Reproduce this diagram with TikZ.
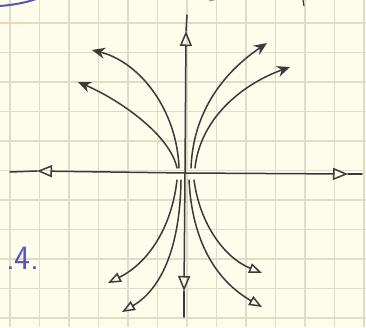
\documentclass[tikz,border=0pt]{standalone}
\usetikzlibrary{arrows.meta}
\definecolor{paper}{HTML}{FEFCEB}
\definecolor{gridc}{HTML}{DFDDCA}
\definecolor{ink}{HTML}{3A3A3A}
\definecolor{blueink}{HTML}{5555BB}
\definecolor{margin}{HTML}{F2D2B8}
\begin{document}
\begin{tikzpicture}[x=1pt,y=-1pt,
  gridline/.style={draw=gridc,line width=1.3pt},
  axisline/.style={draw=ink,line width=1.5pt,line cap=round},
  axistip/.style={axisline,-{Triangle[open,length=15pt,width=12pt]}},
  uptraj/.style={draw=ink,line width=1.5pt,line cap=round,-{Stealth[length=13pt,width=11pt]}},
  downtraj/.style={draw=ink,line width=1.5pt,line cap=round,-{Triangle[open,length=13pt,width=10pt]}}]
\fill[paper] (0,0) rectangle (366,327);
\useasboundingbox (0,0) rectangle (366,327);
% graph paper
\foreach \i in {0,...,12} \draw[gridline] ({10+29.5*\i},0) -- ({10+29.5*\i},327);
\foreach \j in {0,...,10} \draw[gridline] (0,{23+29.5*\j}) -- (366,{23+29.5*\j});
\draw[margin,line width=1.5pt] (0,23) -- (25,23);
% cut-off marks at the top
\draw[blueink,line width=2pt] (0,6) .. controls (12,5) and (25,3) .. (36,-1);
\draw[ink,line width=1.2pt] (303,0) -- (304,6);
\draw[gridc!60!ink,line width=1pt] (209,1) -- (214,0);
% axes
\coordinate (O) at (185,173);
\coordinate (Lt) at (37,171);
\coordinate (Lend) at (10,172);
\coordinate (Rt) at (348,174);
\coordinate (Rend) at (362,174);
\coordinate (Tt) at (186,31);
\coordinate (Tend) at (187,15);
\coordinate (Bt) at (184,291);
\coordinate (Bend) at (184,317);
\draw[axistip] (O) -- (Lt);
\draw[axisline] (Lt) -- (Lend);
\draw[axistip] (O) -- (Rt);
\draw[axisline] (Rt) -- (Rend);
\draw[axistip] (O) -- (Tt);
\draw[axisline] (Tt) -- (Tend);
\draw[axistip] (O) -- (Bt);
\draw[axisline] (Bt) -- (Bend);
% trajectories, upper half
\coordinate (ul1s) at (179,168); \coordinate (ul1e) at (92,50);
\coordinate (ul2s) at (177,168); \coordinate (ul2e) at (78,82);
\coordinate (ur1s) at (191,168); \coordinate (ur1e) at (267,43);
\coordinate (ur2s) at (195,168); \coordinate (ur2e) at (290,67);
\draw[uptraj] (ul1s) .. controls (177,110) and (140,62) .. (ul1e);
\draw[uptraj] (ul2s) .. controls (170,135) and (120,100) .. (ul2e);
\draw[uptraj] (ur1s) .. controls (193,115) and (220,75) .. (ur1e);
\draw[uptraj] (ur2s) .. controls (200,120) and (240,85) .. (ur2e);
% trajectories, lower half
\coordinate (ll1s) at (177,180); \coordinate (ll1e) at (108,283);
\coordinate (ll2s) at (181,180); \coordinate (ll2e) at (122,312);
\coordinate (lr1s) at (189,180); \coordinate (lr1e) at (262,307);
\coordinate (lr2s) at (194,180); \coordinate (lr2e) at (262,273);
\draw[downtraj] (ll1s) .. controls (172,225) and (150,262) .. (ll1e);
\draw[downtraj] (ll2s) .. controls (180,250) and (160,290) .. (ll2e);
\draw[downtraj] (lr1s) .. controls (192,240) and (215,280) .. (lr1e);
\draw[downtraj] (lr2s) .. controls (200,225) and (225,258) .. (lr2e);
% label
\node[anchor=base east,text=blueink,font=\sffamily\fontsize{34}{34}\selectfont,inner sep=0pt] (lab) at (40,269) {.4.};
\end{tikzpicture}
\end{document}
